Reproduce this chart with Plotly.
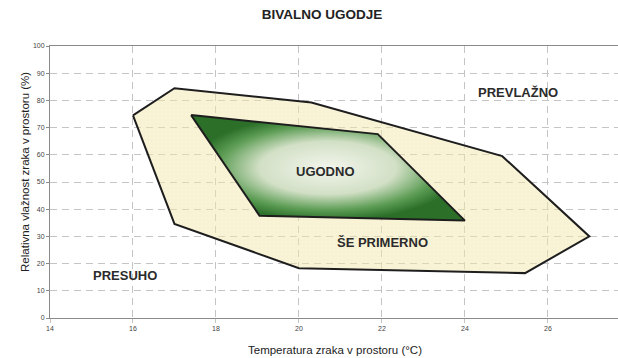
import plotly.graph_objects as go

# Comfort zones: indoor air temperature (°C) vs relative humidity (%)
outer_temp = [16.0, 17.0, 20.3, 24.9, 27.0, 25.45, 20.0, 17.0, 16.0]
outer_rh = [74.5, 84.5, 79.2, 59.5, 30.0, 16.5, 18.3, 34.6, 74.5]

inner_temp = [17.4, 21.9, 24.0, 19.05, 17.4]
inner_rh = [74.6, 67.6, 35.8, 37.6, 74.6]

x_ticks = [14, 16, 18, 20, 22, 24, 26]
y_ticks = [0, 10, 20, 30, 40, 50, 60, 70, 80, 90, 100]

zone_labels = ["UGODNO", "ŠE PRIMERNO", "PREVLAŽNO", "PRESUHO"]
zone_temp = [20.63, 22.02, 25.27, 15.8]
zone_rh = [54.0, 27.9, 82.8, 15.6]

FONT = "Liberation Sans, Arial, sans-serif"

fig = go.Figure()

# acceptable zone: translucent cream so the dashed grid shows through,
# with a faint graph-paper texture
fig.add_trace(go.Scatter(
    x=outer_temp, y=outer_rh, mode="lines", fill="toself",
    fillcolor="rgba(243,232,175,0.5)",
    fillpattern=dict(shape="+", bgcolor="rgba(243,232,175,0.5)",
                     fgcolor="rgba(215,200,140,0.35)", size=4, solidity=0.15),
    line=dict(color="#1e1e1e", width=2),
    hoverinfo="skip", showlegend=False,
))

# comfortable zone: green with light centre
fig.add_trace(go.Scatter(
    x=inner_temp, y=inner_rh, mode="lines", fill="toself",
    fillgradient=dict(type="radial",
                      colorscale=[[0, "#f3f5ec"], [0.5, "#d2e0c6"],
                                  [0.8, "#5d9d55"], [1, "#2b6f29"]]),
    line=dict(color="#1e1e1e", width=2),
    hoverinfo="skip", showlegend=False,
))

for txt, tx, ty in zip(zone_labels, zone_temp, zone_rh):
    fig.add_annotation(x=tx, y=ty, text=f"<b>{txt}</b>", showarrow=False,
                       font=dict(family=FONT, size=13, color="#2b2b2b"))

# axis titles
fig.add_annotation(xref="paper", yref="paper", x=0.502, y=-0.118,
                   xanchor="center", yanchor="middle",
                   text="Temperatura zraka v prostoru (°C)", showarrow=False,
                   font=dict(family=FONT, size=11.5, color="#222"))
fig.add_annotation(xref="paper", yref="paper", x=-0.044, y=0.537,
                   xanchor="center", yanchor="middle",
                   text="Relativna vlažnost zraka v prostoru (%)",
                   textangle=-90, showarrow=False,
                   font=dict(family=FONT, size=11.5, color="#222"))

fig.update_layout(
    width=618, height=358,
    margin=dict(l=50, r=0, t=46, b=40),
    paper_bgcolor="white", plot_bgcolor="white",
    title=dict(text="<b>BIVALNO UGODJE</b>", x=0.521, xanchor="center",
               y=0.961, yanchor="middle",
               font=dict(family=FONT, size=13.5, color="#222")),
    font=dict(family=FONT),
)

fig.update_xaxes(
    range=[14, 27.69], tickvals=x_ticks,
    showgrid=True, gridcolor="#c4c4c4", griddash="7px,5px", gridwidth=1,
    showline=True, linecolor="#8a8a8a", linewidth=1, mirror=True,
    ticks="outside", ticklen=4, tickcolor="#c4c4c4",
    tickfont=dict(family=FONT, size=7, color="#444"),
    zeroline=False,
)
fig.update_yaxes(
    range=[0, 100], tickvals=y_ticks,
    showgrid=True, gridcolor="#c4c4c4", griddash="7px,5px", gridwidth=1,
    showline=True, linecolor="#8a8a8a", linewidth=1,
    ticks="outside", ticklen=3, tickcolor="#8a8a8a",
    tickfont=dict(family=FONT, size=7, color="#444"),
    zeroline=False,
)

fig.write_html("out.html")
